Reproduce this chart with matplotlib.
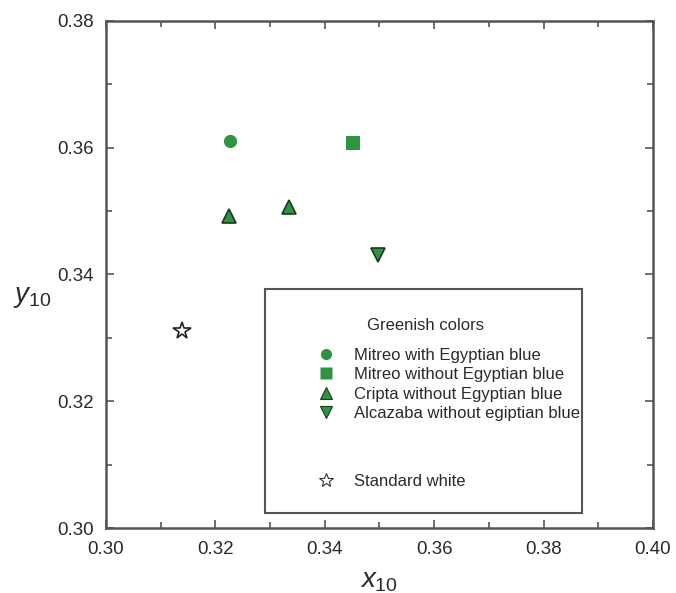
import matplotlib.pyplot as plt
from matplotlib.lines import Line2D
from matplotlib.patches import Rectangle
from matplotlib.ticker import MultipleLocator

plt.rcParams['font.family'] = ['Liberation Sans', 'DejaVu Sans']
plt.rcParams['mathtext.fontset'] = 'custom'
plt.rcParams['mathtext.rm'] = 'Liberation Sans'
plt.rcParams['mathtext.it'] = 'Liberation Sans:italic'

# chromaticity coordinates
labels = ['Mitreo with Egyptian blue', 'Mitreo without Egyptian blue',
          'Cripta without Egyptian blue', 'Alcazaba without egiptian blue']
x_vals = [[0.3227], [0.3452], [0.3225, 0.3335], [0.3497]]
y_vals = [[0.3611], [0.3607], [0.3492, 0.3507], [0.3431]]
markers = ['o', 's', '^', 'v']
edges = ['none', 'none', '#1a3a1f', '#1a3a1f']

white_x = [0.3139]
white_y = [0.3311]

green = '#2f9344'
grey = '#555555'
txt = '#2a2a2a'

fig = plt.figure(figsize=(6.76, 5.93), dpi=100)
ax = fig.add_axes([0.1568, 0.1096, 0.809, 0.855])

for xs, ys, m, ec in zip(x_vals, y_vals, markers, edges):
    ax.plot(xs, ys, linestyle='none', marker=m, markersize=9.5,
            color=green, markeredgecolor=ec, markeredgewidth=1.2)
ax.plot(white_x, white_y, linestyle='none', marker='*', markersize=13,
        markerfacecolor='white', markeredgecolor='#222222', markeredgewidth=1.2)

ax.set_xlim(0.30, 0.40)
ax.set_ylim(0.30, 0.38)
ax.xaxis.set_major_locator(MultipleLocator(0.02))
ax.xaxis.set_minor_locator(MultipleLocator(0.01))
ax.yaxis.set_major_locator(MultipleLocator(0.02))
ax.yaxis.set_minor_locator(MultipleLocator(0.01))
ax.xaxis.set_major_formatter(plt.FormatStrFormatter('%.2f'))
ax.yaxis.set_major_formatter(plt.FormatStrFormatter('%.2f'))
ax.tick_params(which='both', direction='in', top=True, right=True,
               color=grey, labelsize=13.5, labelcolor=txt)
ax.tick_params(which='major', length=6, width=1.2, pad=9)
ax.tick_params(which='minor', length=4, width=1.2)
for s in ax.spines.values():
    s.set_color(grey)
    s.set_linewidth(1.8)

ax.set_xlabel(r'$x_{\mathrm{10}}$', fontsize=20, color=txt, va='center')
ax.xaxis.set_label_coords(0.5, -0.105)
ax.set_ylabel(r'$y_{\mathrm{10}}$', fontsize=20, color=txt, rotation=0,
              va='center')
ax.yaxis.set_label_coords(-0.135, 0.455)

# legend frame and heading
ax.add_patch(Rectangle((0.291, 0.030), 0.579, 0.441, transform=ax.transAxes,
                       fill=False, edgecolor=grey, linewidth=1.5, zorder=5))
ax.text(0.585, 0.400, 'Greenish colors', transform=ax.transAxes,
        ha='center', va='center', fontsize=12, color=txt)

handles = []
for m, ec in zip(markers, edges):
    handles.append(Line2D([], [], linestyle='none', marker=m, markersize=8,
                          color=green, markeredgecolor=ec, markeredgewidth=0.8))
leg = ax.legend(handles, labels, frameon=False,
                loc='upper left', bbox_to_anchor=(0.384, 0.356),
                borderaxespad=0, borderpad=0,
                fontsize=12, labelspacing=0.27,
                handletextpad=1.1, handlelength=1.2)
for t in leg.get_texts():
    t.set_color(txt)
ax.add_artist(leg)

star = Line2D([], [], linestyle='none', marker='*', markersize=10,
              markerfacecolor='white', markeredgecolor='#333333',
              markeredgewidth=0.8)
leg2 = ax.legend([star], ['Standard white'], frameon=False,
                 loc='upper left', bbox_to_anchor=(0.384, 0.107),
                 borderaxespad=0, borderpad=0, fontsize=12,
                 handletextpad=1.1, handlelength=1.2)
for t in leg2.get_texts():
    t.set_color(txt)

fig.savefig('out.png', dpi=100)
